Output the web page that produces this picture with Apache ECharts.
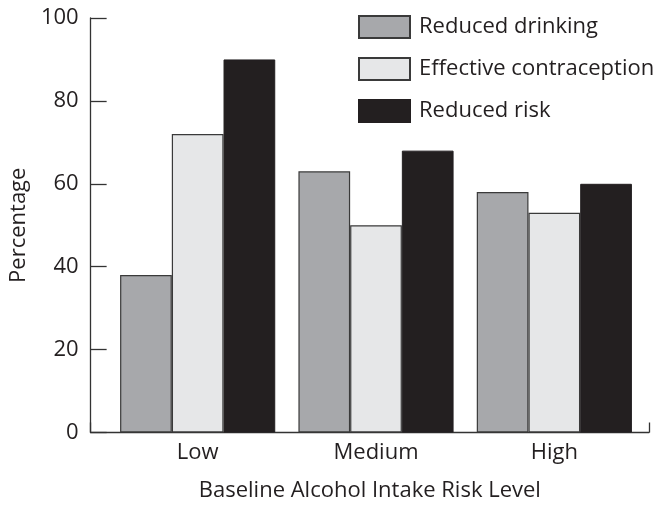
<!DOCTYPE html>
<html>
<head>
<meta charset="utf-8">
<script src="https://cdn.jsdelivr.net/npm/echarts@6/dist/echarts.min.js"></script>
<style>html,body{margin:0;padding:0;background:#fff}#c{width:667px;height:508px}</style>
</head>
<body>
<div id="c"></div>
<script>
const categories = ['Low', 'Medium', 'High'];
const reducedDrinking = [38, 63, 58];
const effectiveContraception = [72, 50, 53];
const reducedRisk = [90, 68, 60];
const yTicks = [0, 20, 40, 60, 80, 100];
const seriesNames = ['Reduced drinking', 'Effective contraception', 'Reduced risk'];

const FONT = 'Open Sans';
const FS = 22;
const TXT = '#231f20';
const gridTop = 18, gridBottom = 75.5;

const chart = echarts.init(document.getElementById('c'), null, {renderer: 'canvas'});
chart.setOption({
  animation: false,
  backgroundColor: '#ffffff',
  textStyle: {fontFamily: FONT, color: TXT},
  grid: [
    {left: 88.5, right: 18, top: gridTop, bottom: gridBottom, containLabel: false},
    {left: 108.5, right: 23.5, top: gridTop, bottom: gridBottom, containLabel: false}
  ],
  legend: {
    orient: 'vertical',
    left: 358, top: 15,
    itemWidth: 51, itemHeight: 22, itemGap: 18,
    padding: 0,
    icon: 'rect',
    selectedMode: false,
    textStyle: {fontFamily: FONT, fontSize: FS, color: TXT, padding: [0, 0, 0, 4]},
    data: seriesNames
  },
  xAxis: [
    {
      gridIndex: 0, type: 'value', min: 0, max: 1, interval: 1,
      axisLine: {show: true, lineStyle: {color: '#333', width: 1.3}},
      axisTick: {show: true, inside: true, length: 10, lineStyle: {color: '#333', width: 1.3}},
      axisLabel: {show: false}, splitLine: {show: false},
      name: 'Baseline Alcohol Intake Risk Level', nameLocation: 'middle', nameGap: 47,
      nameTextStyle: {fontFamily: FONT, fontSize: FS, color: TXT}
    },
    {
      gridIndex: 1, type: 'category', data: categories,
      axisLine: {show: false}, axisTick: {show: false},
      axisLabel: {fontFamily: FONT, fontSize: FS, color: TXT, margin: 9}
    }
  ],
  yAxis: [
    {
      gridIndex: 0, type: 'value', min: yTicks[0], max: yTicks[yTicks.length - 1], interval: 20,
      axisLine: {show: true, lineStyle: {color: '#333', width: 1.3}},
      axisTick: {show: true, inside: true, length: 16, lineStyle: {color: '#333', width: 1.3}},
      axisLabel: {fontFamily: FONT, fontSize: FS, color: TXT, margin: 12},
      splitLine: {show: false},
      name: 'Percentage', nameLocation: 'middle', nameGap: 48,
      nameTextStyle: {fontFamily: FONT, fontSize: FS, color: TXT}
    },
    {
      gridIndex: 1, type: 'value', min: 0, max: 100, interval: 20, show: false
    }
  ],
  series: [
    {name: seriesNames[0], type: 'bar', xAxisIndex: 1, yAxisIndex: 1, data: reducedDrinking,
     barGap: '0%', barCategoryGap: '13%',
     itemStyle: {color: '#a7a8ab', borderColor: '#3a3a3a', borderWidth: 1.2}},
    {name: seriesNames[1], type: 'bar', xAxisIndex: 1, yAxisIndex: 1, data: effectiveContraception,
     barGap: '0%', barCategoryGap: '13%',
     itemStyle: {color: '#e6e7e8', borderColor: '#3a3a3a', borderWidth: 1.2}},
    {name: seriesNames[2], type: 'bar', xAxisIndex: 1, yAxisIndex: 1, data: reducedRisk,
     barGap: '0%', barCategoryGap: '13%',
     itemStyle: {color: '#231f20', borderColor: '#231f20', borderWidth: 1}}
  ]
});
</script>
</body>
</html>
